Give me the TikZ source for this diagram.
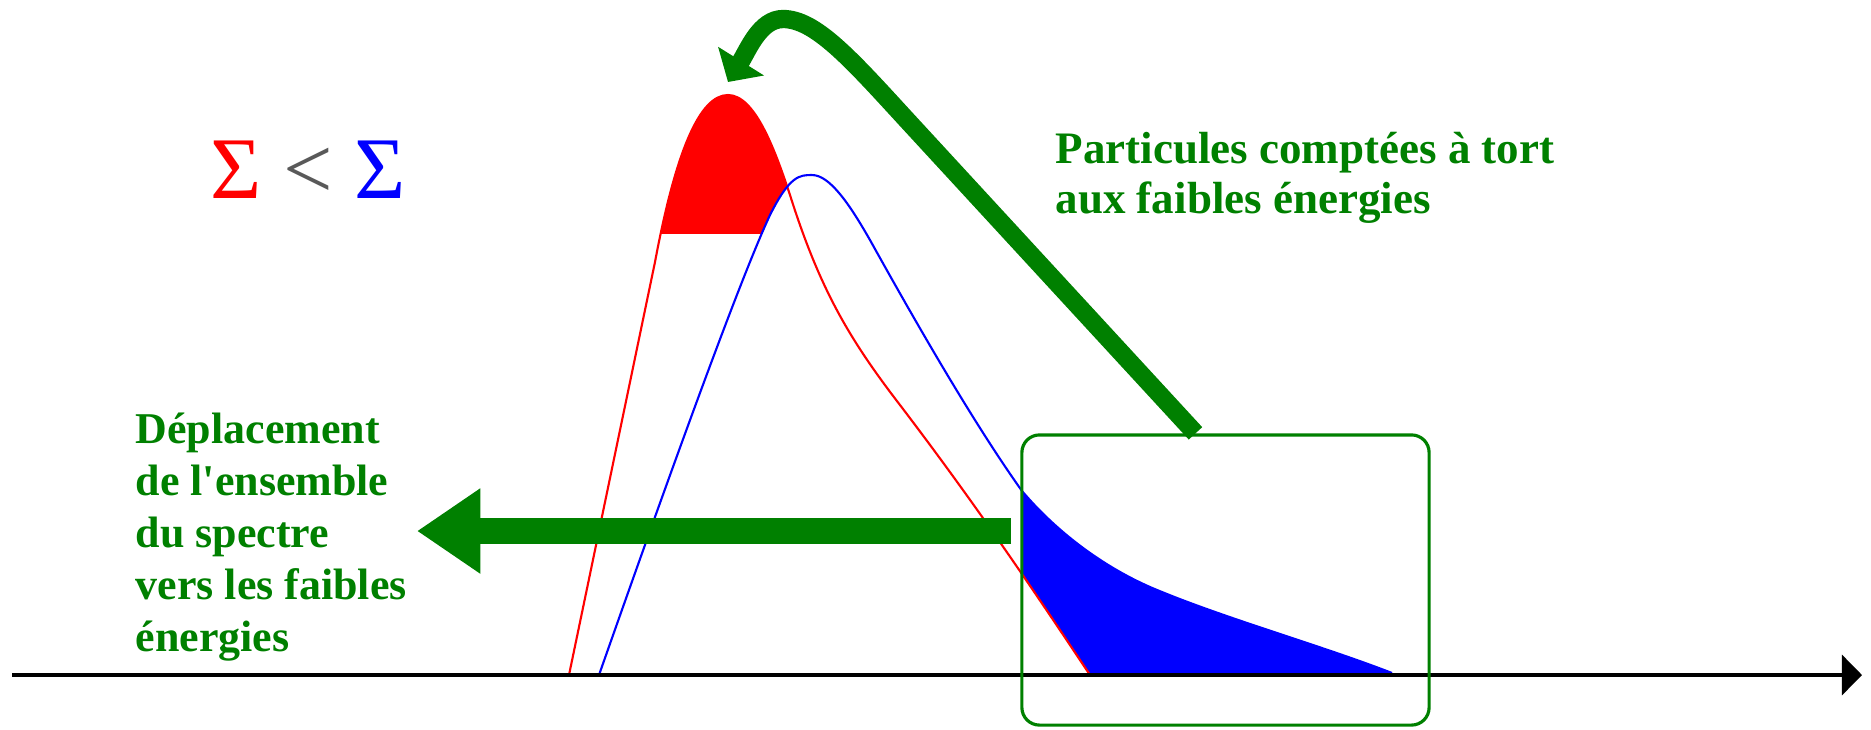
\documentclass[tikz,border=0pt]{standalone}
\usepackage{fontspec}
\setmainfont{Liberation Serif}
\usepackage{xcolor}
\usetikzlibrary{arrows.meta,positioning}
\definecolor{dgreen}{RGB}{0,128,0}

% spectra, in pixel units (y down)
\newcommand\redcurve{(569,675) -- (655,262) .. controls (676,150) and (700,95) .. (728,95) .. controls (755,95) and (775,150) .. (790,195) .. controls (820,290) and (850,340) .. (900,405) .. controls (980,510) and (1040,600) .. (1090,675)}
\newcommand\bluecurve{(599,675) .. controls (650,530) and (735,290) .. (770,215) .. controls (790,175) and (800,175) .. (812,175) .. controls (830,175) and (850,205) .. (870,240) .. controls (920,330) and (975,425) .. (1022,491) .. controls (1055,530) and (1100,565) .. (1150,587) .. controls (1220,617) and (1320,645) .. (1392,673)}

\begin{document}
\begin{tikzpicture}[
    x=0.01cm, y=-0.01cm,
    spec/.style={line width=0.6pt},
    axisline/.style={-{Triangle[length=5.7pt,width=11.4pt]}, line width=0.9pt},
    fatarrow/.style={dgreen, line width=7.4pt, -{Triangle[length=18pt,width=23pt]}},
    bendarrow/.style={dgreen, line width=5.2pt, -{Triangle[length=7pt,width=15pt]}},
    tailbox/.style={draw=dgreen, line width=0.9pt, rounded corners=5pt, minimum width=4.07cm, minimum height=2.9cm, inner sep=0pt},
    lbl/.style={text=dgreen, align=left, inner sep=0pt, anchor=north west},
]
\useasboundingbox (0,0) rectangle (1871,729);

% filled parts of the spectra
\begin{scope}
    \clip (0,0) rectangle (1871,233);
    \clip \redcurve -- cycle;
    \fill[red] \redcurve -- cycle;
    \fill[white] \bluecurve -- cycle;
\end{scope}
\begin{scope}
    \clip (1022,0) rectangle (1871,729);
    \clip \bluecurve -- cycle;
    \fill[blue] \bluecurve -- cycle;
    \fill[white] \redcurve -- cycle;
\end{scope}

% spectra
\draw[spec, red] \redcurve;
\draw[spec, blue] \bluecurve;

% energy axis
\coordinate (axisL) at (12,675);
\coordinate (axisR) at (1862,675);
\draw[axisline] (axisL) -- (axisR);

% tail of the spectrum
\node[tailbox] (tail) at (1225.5,580) {};

% labels
\node[inner sep=0pt, font=\fontsize{25}{30}\selectfont] (sigma) at (308,170)
    {\textcolor{red}{Σ} \textcolor{black!65}{<} \textcolor{blue}{Σ}};
\node[lbl, font=\fontsize{12.8}{14}\selectfont\bfseries] (wrong) at (1055,132)
    {Particules comptées à tort\\aux faibles énergies};
\node[lbl, font=\fontsize{12.5}{14.8}\selectfont\bfseries] (shift) at (135,412)
    {Déplacement\\de l\textquotesingle ensemble\\du spectre\\vers les faibles\\énergies};

% arrows
\coordinate (shiftfrom) at (1011,531);
\coordinate (shiftto) at (417,531);
\draw[fatarrow] (shiftfrom) -- (shiftto);

\coordinate (peaktip) at (728,82);
\draw[bendarrow] ([xshift=-0.3cm]tail.north) -- (905,118) .. controls (850,58) and (815,19) .. (783,19)
    .. controls (760,19) and (748,50) .. (peaktip);

\end{tikzpicture}
\end{document}
